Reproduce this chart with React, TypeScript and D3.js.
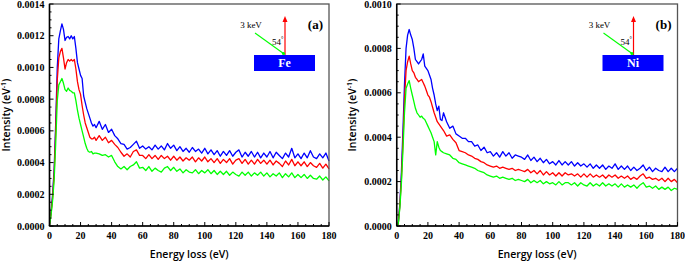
import React from "react";
import * as d3 from "d3";

// Energy grid (eV)
const ENERGY = [
  0, 1, 2, 3, 4, 5, 6, 7, 8, 9, 10, 11, 12, 13, 14, 15, 16, 17, 18, 19, 20, 21, 22, 23, 24, 25, 26, 27, 28, 29, 30,
  32, 34, 36, 38, 40, 42, 44, 46, 48, 50, 52, 54, 56, 58, 60, 62, 64, 66, 68, 70, 72, 74, 76, 78, 80,
  82, 84, 86, 88, 90, 92, 94, 96, 98, 100, 102, 104, 106, 108, 110, 112, 114, 116, 118, 120, 122, 124, 126, 128, 130,
  132, 134, 136, 138, 140, 142, 144, 146, 148, 150, 152, 154, 156, 158, 160, 162, 164, 166, 168, 170, 172, 174, 176, 178, 180,
];

// Intensities in units of 1e-4 eV^-1
const FE_BLUE = [
  0.0, 0.9, 2.0, 3.6, 6.5, 10.0, 11.8, 12.3, 12.75, 12.4, 11.7, 11.9, 11.95, 11.8, 12.0, 11.8, 11.95, 11.2, 10.3, 9.9, 9.5, 9.3, 8.2, 7.8, 7.4, 7.1, 6.8, 6.5, 6.3, 6.4, 6.2,
  6.6, 6.1, 6.4, 5.9, 6.1, 5.7, 5.5, 5.2, 5.15, 4.85, 4.95, 5.15, 5.35, 4.9, 5.05, 4.85, 5.0, 4.8, 5.1, 4.85, 5.05, 4.8, 5.2, 4.9, 5.1,
  4.75, 5.0, 4.7, 4.9, 4.65, 4.95, 4.7, 4.85, 4.6, 4.9, 4.55, 4.8, 4.5, 4.75, 4.4, 4.7, 4.45, 4.75, 4.4, 4.65, 4.8, 4.35, 4.65, 4.4, 4.7,
  4.35, 4.65, 4.3, 4.6, 4.35, 4.7, 4.3, 4.65, 4.45, 4.25, 4.6, 4.35, 4.9, 4.3, 4.55, 4.25, 4.6, 4.3, 4.75, 4.35, 4.25, 4.55, 4.3, 4.6, 4.1,
];
const FE_RED = [
  0.0, 0.8, 1.8, 3.3, 6.0, 9.2, 10.6, 11.0, 11.2, 10.6, 9.9, 10.3, 10.5, 10.4, 10.5, 10.4, 10.5, 9.9, 9.1, 8.6, 8.3, 7.6, 7.0, 6.5, 6.2, 5.9, 5.6, 5.5, 5.5, 5.6, 5.4,
  5.7, 5.4, 5.6, 5.25, 5.4, 5.15, 4.95, 4.65, 4.4, 4.55, 4.35, 4.7, 4.8, 4.45, 4.45, 4.25, 4.5, 4.25, 4.45, 4.2, 4.45, 4.25, 4.4, 4.15, 4.4,
  4.15, 4.35, 4.1, 4.3, 4.15, 4.35, 4.05, 4.3, 4.1, 4.35, 4.05, 4.25, 4.0, 4.25, 3.95, 4.2, 4.0, 4.25, 3.9, 4.15, 4.25, 3.95, 4.2, 3.9, 4.15,
  3.9, 4.2, 3.95, 4.15, 3.9, 4.15, 3.85, 4.1, 3.95, 3.75, 4.1, 3.85, 4.2, 3.8, 4.05, 3.8, 4.05, 3.75, 4.0, 3.8, 3.7, 3.95, 3.65, 3.9, 3.6,
];
const FE_GREEN = [
  0.0, 0.7, 1.6, 2.9, 5.2, 7.9, 8.9, 9.1, 9.3, 9.0, 8.6, 8.5, 8.7, 8.55, 8.5, 8.4, 8.4, 7.9, 7.3, 6.8, 6.4, 6.0, 5.6, 5.2, 4.9, 4.7, 4.65, 4.7, 4.55, 4.6, 4.6,
  4.55, 4.45, 4.5, 4.35, 4.45, 4.05, 3.75, 3.6, 3.75, 3.55, 3.75, 3.85, 4.05, 3.65, 3.7, 3.5, 3.75, 3.45, 3.65, 3.5, 3.4, 3.65, 3.75, 3.5, 3.7,
  3.45, 3.6, 3.35, 3.55, 3.4, 3.35, 3.55, 3.3, 3.5, 3.35, 3.55, 3.3, 3.5, 3.25, 3.45, 3.25, 3.45, 3.2, 3.4, 3.25, 3.15, 3.4, 3.2, 3.4, 3.15,
  3.35, 3.2, 3.4, 3.15, 3.35, 3.1, 3.3, 3.15, 3.35, 3.05, 3.3, 3.1, 3.35, 3.05, 3.25, 3.05, 3.25, 3.0, 3.2, 3.0, 2.95, 3.15, 2.9, 3.1, 2.85,
];
const NI_BLUE = [
  0.0, 0.1, 1.0, 2.4, 4.3, 6.4, 8.0, 8.6, 8.85, 8.6, 8.4, 8.0, 7.5, 7.4, 7.3, 7.4, 7.5, 7.75, 7.2, 7.1, 7.0, 6.8, 6.6, 6.2, 5.9, 5.5, 5.2, 5.4, 4.8, 4.75, 5.1,
  4.7, 4.4, 4.5, 4.15, 4.05, 3.95, 3.95, 3.8, 3.8, 3.6, 3.65, 3.4, 3.55, 3.3, 3.35, 3.15, 3.3, 3.1, 3.35, 3.15, 3.3, 3.05, 3.2, 3.15, 3.1,
  3.0, 3.2, 2.95, 3.1, 2.9, 3.05, 2.85, 3.0, 2.8, 2.9, 2.75, 2.95, 2.75, 2.9, 2.75, 2.9, 2.7, 2.85, 2.7, 2.8, 2.65, 2.8, 2.6, 2.75, 2.6,
  2.75, 2.55, 2.7, 2.6, 2.8, 2.55, 2.7, 2.55, 2.7, 2.5, 2.65, 2.5, 2.6, 2.75, 2.5, 2.65, 2.45, 2.6, 2.5, 2.45, 2.65, 2.45, 2.6, 2.45, 2.6,
];
const NI_RED = [
  0.0, 0.1, 0.9, 2.1, 3.8, 5.7, 7.0, 7.4, 7.65, 7.3, 7.0, 6.9, 6.7, 6.6, 6.5, 6.55, 6.6, 6.45, 6.3, 6.1, 5.9, 5.8, 5.6, 5.35, 5.1, 4.9, 4.7, 4.6, 4.5, 4.4, 4.3,
  4.05, 4.1, 3.9, 3.75, 3.4, 3.35, 3.3, 3.2, 3.15, 3.05, 3.0, 2.9, 2.85, 2.75, 2.7, 2.65, 2.7, 2.6, 2.65, 2.6, 2.55, 2.6, 2.5, 2.55, 2.5,
  2.45, 2.55, 2.4, 2.5, 2.35, 2.5, 2.3, 2.45, 2.3, 2.4, 2.25, 2.4, 2.25, 2.4, 2.3, 2.35, 2.25, 2.35, 2.2, 2.35, 2.2, 2.35, 2.2, 2.3, 2.2,
  2.3, 2.15, 2.3, 2.2, 2.3, 2.15, 2.25, 2.15, 2.25, 2.1, 2.2, 2.1, 2.25, 2.35, 2.15, 2.2, 2.1, 2.15, 2.05, 2.15, 2.0, 2.15, 2.0, 2.1, 1.95,
];
const NI_GREEN = [
  0.0, 0.1, 0.8, 1.9, 3.4, 5.1, 6.2, 6.4, 6.55, 6.2, 5.9, 5.6, 5.3, 5.1, 5.0, 4.9, 4.95, 4.85, 4.8, 4.65, 4.5, 4.35, 4.2, 4.0, 3.8, 3.2, 3.8, 3.55, 3.4, 3.35, 3.3,
  3.25, 3.2, 3.05, 3.0, 2.85, 2.8, 2.75, 2.7, 2.65, 2.6, 2.5, 2.45, 2.4, 2.3, 2.25, 2.2, 2.25, 2.15, 2.2, 2.15, 2.1, 2.15, 2.05, 2.1, 2.05,
  2.0, 2.1, 1.95, 2.05, 1.95, 2.05, 1.9, 2.0, 1.9, 1.95, 1.85, 2.0, 1.85, 1.95, 1.95, 1.85, 1.95, 1.8, 1.95, 1.85, 1.8, 1.95, 1.8, 1.9, 1.8,
  1.95, 1.8, 1.9, 1.8, 1.9, 1.75, 1.9, 1.75, 1.85, 1.75, 1.85, 1.7, 1.85, 1.95, 1.75, 1.8, 1.7, 1.8, 1.65, 1.75, 1.65, 1.75, 1.6, 1.7, 1.65,
];

const X_TICKS = [0, 20, 40, 60, 80, 100, 120, 140, 160, 180];
const FE_Y_TICKS = [0, 2, 4, 6, 8, 10, 12, 14];
const NI_Y_TICKS = [0, 2, 4, 6, 8, 10];
const SERIES_COLORS = ["#0000ff", "#ff0000", "#00ff00"];

const SERIF = "'Liberation Serif', 'Times New Roman', serif";
const SANS = "'Open Sans', 'Noto Sans', sans-serif";

type PanelProps = {
  x0: number;
  x1: number;
  yMax: number;
  yTicks: number[];
  series: number[][];
  label: string;
  element: string;
  titleX: number;
};

const TOP = 4;
const BOTTOM = 226;

function Panel({ x0, x1, yMax, yTicks, series, label, element, titleX }: PanelProps) {
  const x = d3.scaleLinear().domain([0, 180]).range([x0, x1]);
  const y = d3.scaleLinear().domain([0, yMax]).range([BOTTOM, TOP]);
  const line = d3
    .line<number>()
    .x((_, i) => x(ENERGY[i]))
    .y((d) => y(d));
  const fmt = (v: number) => d3.format(".4f")(v * 1e-4);
  const xMinor = d3.range(0, 181, 5).filter((v) => v % 20 !== 0);
  const yMinor = d3.range(0, yMax + 0.001, 0.5).filter((v) => Math.abs(v % 2) > 0.01);
  const insetRight = x1 - 14;
  const rectX = insetRight - 61;
  const arrowX = rectX + 31;
  return (
    <g>
      {series.map((s, k) => (
        <path key={k} d={line(s) || ""} fill="none" stroke={SERIES_COLORS[k]} strokeWidth={1.3} strokeLinejoin="round" />
      ))}
      <rect x={x0} y={TOP} width={x1 - x0} height={BOTTOM - TOP} fill="none" stroke="#555" strokeWidth={1.3} />
      <line x1={x0} x2={x0} y1={TOP} y2={BOTTOM} stroke="#000" strokeWidth={1.5} />
      <line x1={x0} x2={x1} y1={BOTTOM} y2={BOTTOM} stroke="#000" strokeWidth={1.5} />
      {X_TICKS.map((t) => (
        <g key={"xt" + t}>
          <line x1={x(t)} x2={x(t)} y1={BOTTOM} y2={BOTTOM - 4} stroke="#000" strokeWidth={1} />
          <text x={x(t)} y={238.5} textAnchor="middle" fontFamily={SERIF} fontWeight="bold" fontSize={10}>
            {t}
          </text>
        </g>
      ))}
      {xMinor.map((t) => (
        <line key={"xm" + t} x1={x(t)} x2={x(t)} y1={BOTTOM} y2={BOTTOM - 2} stroke="#000" strokeWidth={1} />
      ))}
      {yTicks.map((t) => (
        <g key={"yt" + t}>
          <line x1={x0} x2={x0 + 4} y1={y(t)} y2={y(t)} stroke="#000" strokeWidth={1} />
          <text x={x0 - 5} y={y(t) + 3.5} textAnchor="end" fontFamily={SERIF} fontWeight="bold" fontSize={10}>
            {fmt(t)}
          </text>
        </g>
      ))}
      {yMinor.map((t) => (
        <line key={"ym" + t} x1={x0} x2={x0 + 2} y1={y(t)} y2={y(t)} stroke="#000" strokeWidth={1} />
      ))}
      <text x={(x0 + x1) / 2} y={258} textAnchor="middle" fontFamily={SANS} fontWeight={600} fontSize={10.5}>
        Energy loss (eV)
      </text>
      <text
        transform={`translate(${titleX},${(TOP + BOTTOM) / 2}) rotate(-90)`}
        textAnchor="middle"
        fontFamily={SANS}
        fontWeight={600}
        fontSize={10.5}
      >
        Intensity (eV<tspan dy={-4} fontSize={7}>-1</tspan>
        <tspan dy={4}>)</tspan>
      </text>
      {/* inset */}
      <text x={insetRight + 8} y={29} textAnchor="end" fontFamily={SERIF} fontWeight="bold" fontSize={13}>
        {label}
      </text>
      <rect x={rectX} y={55} width={61} height={16} fill="#0000ff" />
      <text x={rectX + 30.5} y={67} textAnchor="middle" fontFamily={SERIF} fontWeight="bold" fontSize={12} fill="#fff">
        {element}
      </text>
      <line x1={arrowX} x2={arrowX} y1={55} y2={21} stroke="#ff0000" strokeWidth={1.2} />
      <path d={`M${arrowX - 2.5},${22} L${arrowX},${16} L${arrowX + 2.5},${22} Z`} fill="#ff0000" />
      <line x1={arrowX - 30} x2={arrowX - 1.5} y1={33} y2={53.5} stroke="#00ff00" strokeWidth={1.1} />
      <circle cx={arrowX - 1.5} cy={53.5} r={1.6} fill="#00ff00" />
      <text x={arrowX - 34} y={28} textAnchor="middle" fontFamily={SERIF} fontSize={9}>
        3 keV
      </text>
      <text x={arrowX - 13} y={45} fontFamily={SERIF} fontSize={9}>
        54<tspan dy={-4} fontSize={6}>°</tspan>
      </text>
    </g>
  );
}

export default function App() {
  return (
    <svg width={685} height={261} style={{ position: "absolute", left: 0, top: 0, background: "#fff" }}>
      <rect x={0} y={0} width={685} height={261} fill="#fff" />
      <Panel
        x0={49.5}
        x1={329}
        yMax={14}
        yTicks={FE_Y_TICKS}
        series={[FE_BLUE, FE_RED, FE_GREEN]}
        label="(a)"
        element="Fe"
        titleX={10}
      />
      <Panel
        x0={396.7}
        x1={677.5}
        yMax={10}
        yTicks={NI_Y_TICKS}
        series={[NI_BLUE, NI_RED, NI_GREEN]}
        label="(b)"
        element="Ni"
        titleX={356}
      />
    </svg>
  );
}
